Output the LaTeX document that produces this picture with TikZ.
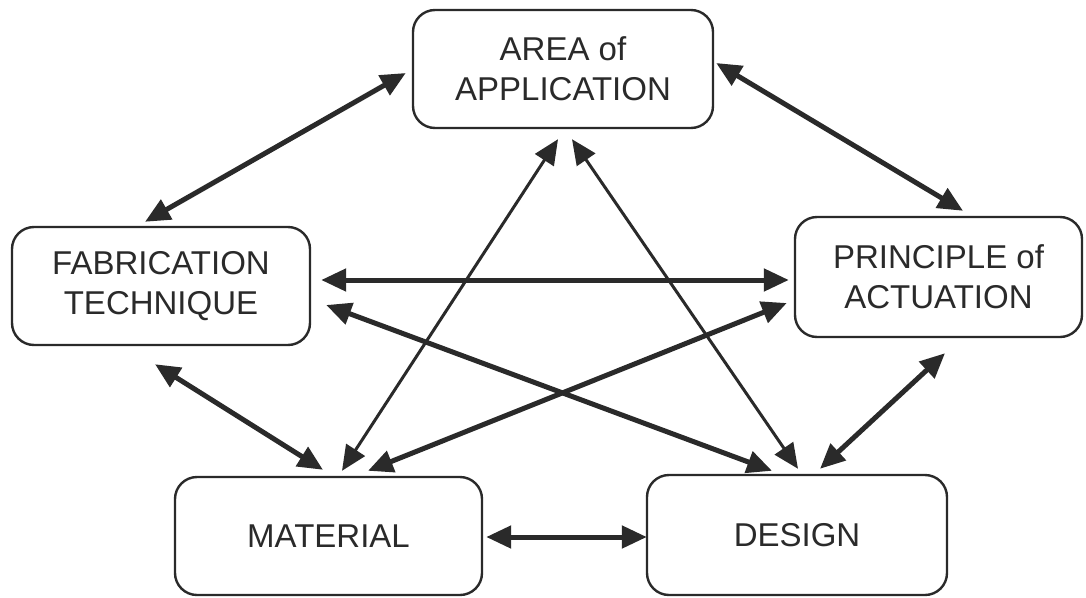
\documentclass[tikz,border=0pt]{standalone}
\usepackage{fontspec}
\setmainfont{Liberation Sans}
\usetikzlibrary{arrows.meta,calc}
\definecolor{ink}{HTML}{2A2A2A}
\tikzset{
  topic/.style={draw=ink, line width=2.4pt, rounded corners=22pt, fill=white,
    text=ink, align=center, inner sep=0pt,
    font=\fontsize{33}{40}\selectfont},
  link/.style={draw=ink, line width=5pt,
    {Triangle[length=25pt,width=22pt]}-{Triangle[length=25pt,width=22pt]}},
  thinlink/.style={link, line width=3pt}
}
\begin{document}
\begin{tikzpicture}[x=1pt,y=-1pt]
  \useasboundingbox (0,0) rectangle (1086,597);

  % the five topics
  \node[topic, minimum width=300pt, minimum height=118pt] (area)  at (563,69)    {AREA of\\APPLICATION};
  \node[topic, minimum width=298pt, minimum height=118pt] (fab)   at (161,286)   {FABRICATION\\TECHNIQUE};
  \node[topic, minimum width=287pt, minimum height=120pt] (princ) at (938.5,277) {PRINCIPLE of\\ACTUATION};
  \node[topic, minimum width=307pt, minimum height=118pt] (mat)   at (328.5,536) {MATERIAL};
  \node[topic, minimum width=300pt, minimum height=120pt] (des)   at (797,535)   {DESIGN};

  % mutual relations between the topics
  \draw[link] ($(fab.north)+(-16,-4)$)   -- ($(area.west)+(-6,4)$);
  \draw[link] ($(area.east)+(2,-6)$)     -- ($(princ.north)+(24.5,-5)$);
  \draw[link] ($(fab.east)+(10,-6)$)     -- ($(princ.west)+(-5,3)$);
  \draw[link] ($(fab.east)+(15,19)$)     -- ($(des.north)+(-25,-3)$);
  \draw[link] ($(fab.south)+(-6,18)$)    -- ($(mat.north)+(-5.5,-6)$);
  \draw[link] ($(mat.east)+(3,1)$)       -- ($(des.west)+(1,2)$);
  \draw[link] ($(mat.north)+(39.5,-5)$)  -- ($(princ.west)+(-7,26)$);
  \draw[link] ($(princ.south)+(6.5,15)$) -- ($(des.north)+(23,-5)$);
  \draw[thinlink] ($(area.south)+(-5,10)$) -- ($(mat.north)+(13.5,-5)$);
  \draw[thinlink] ($(area.south)+(9,10)$)  -- ($(des.north)+(1,-5)$);
\end{tikzpicture}
\end{document}
